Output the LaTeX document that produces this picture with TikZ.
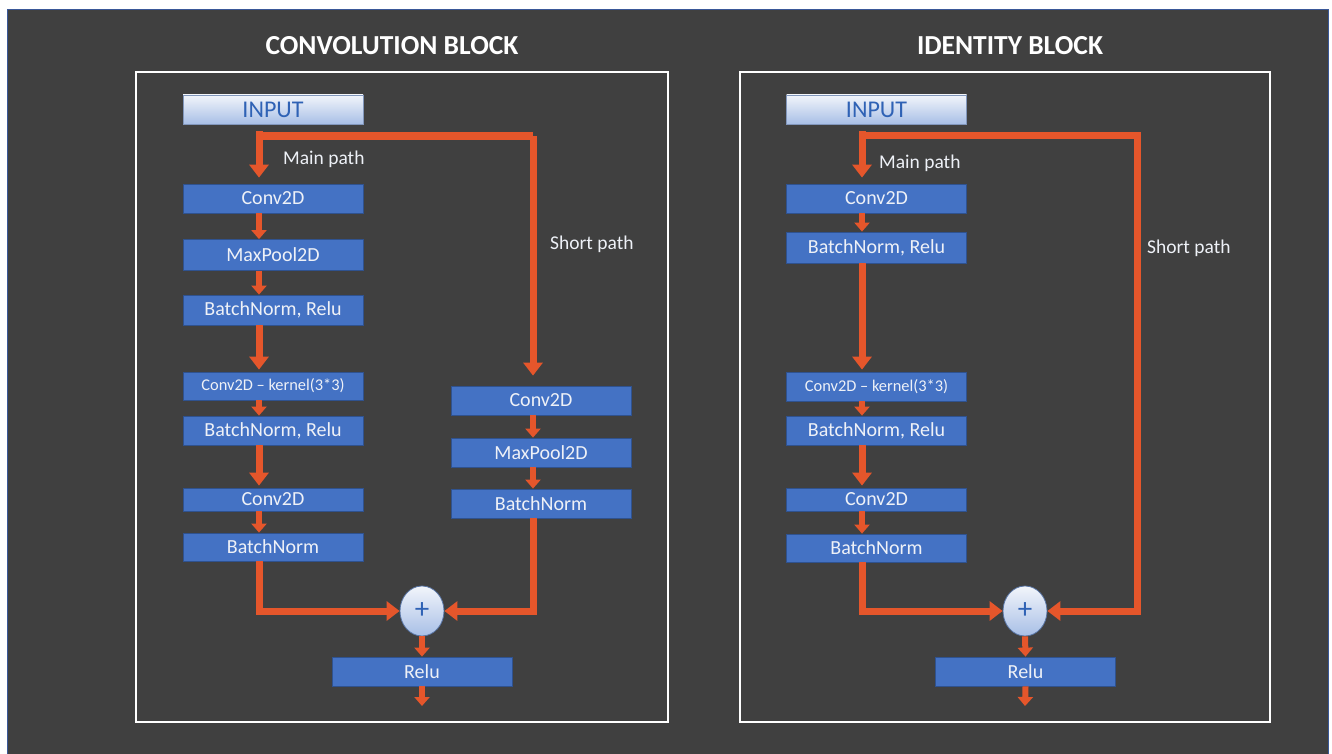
\documentclass[tikz,border=0pt]{standalone}
\usepackage{fontspec}
\setmainfont{Carlito}
\usetikzlibrary{arrows.meta,shapes.geometric}
\definecolor{bg}{HTML}{404040}
\definecolor{boxblue}{HTML}{4472C4}
\definecolor{boxedge}{HTML}{2F528F}
\definecolor{orng}{HTML}{E5562B}
\definecolor{txt}{HTML}{EEF1F7}
\definecolor{inptop}{HTML}{F2F5FB}
\definecolor{inpbot}{HTML}{A8BFE6}
\definecolor{inptxt}{HTML}{2F62B5}
\definecolor{edge}{HTML}{3A5898}
\tikzset{
  box/.style={draw=boxedge, line width=0.8pt, fill=boxblue, text=txt, minimum width=180pt, inner sep=0pt, font=\fontsize{20}{23}\selectfont},
  smallbox/.style={box, font=\fontsize{16.4}{19}\selectfont},
  inbox/.style={draw=boxedge!60, line width=0.8pt, top color=inptop, bottom color=inpbot, text=inptxt, minimum width=180pt, minimum height=29pt, inner sep=0pt, font=\fontsize{24}{27}\selectfont},
  plusnode/.style={ellipse, draw=boxedge!80, line width=0.8pt, top color=inptop, bottom color=inpbot, text=inptxt, minimum width=44pt, minimum height=50pt, inner sep=0pt, font=\fontsize{29}{30}\selectfont},
  bigarr/.style={draw=orng, line width=7pt, line join=miter, -{Triangle[width=19pt,length=13pt]}},
  smallarr/.style={draw=orng, line width=6pt, -{Triangle[width=15pt,length=9pt]}},
  pathline/.style={draw=orng, line width=8pt, line join=miter},
  lbl/.style={text=txt, anchor=west, inner sep=0pt, font=\fontsize{19.5}{22}\selectfont},
  ttl/.style={text=white, inner sep=0pt, font=\bfseries\fontsize{27.5}{30}\selectfont},
  frame/.style={draw=white, line width=1.3pt}
}
\begin{document}
\begin{tikzpicture}[x=1pt,y=-1pt]
\useasboundingbox (0,0) rectangle (1332,754);
\fill[white] (0,0) rectangle (1332,754);
\draw[fill=bg, draw=edge, line width=1pt] (7,10) rectangle (1328,760);

% titles
\node[ttl] (t1) at (392,46) {CONVOLUTION BLOCK};
\node[ttl] (t2) at (1010,46) {IDENTITY BLOCK};

% frames
\draw[frame] (136,72) rectangle (668,722);
\draw[frame] (740,72) rectangle (1270,722);

% ===== Left panel: convolution block =====
\node[inbox] (inpL) at (273,109.5) {INPUT};
\node[box, minimum height=29pt] (c1L) at (273,198.5) {Conv2D};
\node[box, minimum height=31pt] (mpL) at (273,255) {MaxPool2D};
\node[box, minimum height=30pt] (bnrL) at (273,310) {BatchNorm, Relu};
\node[smallbox, minimum height=28pt] (kL) at (273,386) {Conv2D – kernel(3*3)};
\node[box, minimum height=29pt] (bnr2L) at (273,430.5) {BatchNorm, Relu};
\node[box, minimum height=23pt] (c2L) at (273,499.5) {Conv2D};
\node[box, minimum height=28pt] (bnL) at (273,547) {BatchNorm};

\node[box, minimum height=29pt] (sc1L) at (541,400.5) {Conv2D};
\node[box, minimum height=29pt] (smpL) at (541,452.5) {MaxPool2D};
\node[box, minimum height=29pt] (sbnL) at (541,503.5) {BatchNorm};

\node[plusnode] (plusL) at (422,611) {+};
\node[box, minimum height=29pt] (reluL) at (422,671.5) {Relu};
\coordinate (outL) at (422,706);

\coordinate (LmX) at (259,0);
\coordinate (LsX) at (533,0);
\coordinate (LsplitA) at (259,131);
\coordinate (LsplitB) at (259,136);
\coordinate (LcornerT) at (533,136);

\node[lbl] (mainL) at (283,159) {Main path};
\node[lbl] (shortL) at (550,244) {Short path};

\draw[bigarr, shorten >=6pt] (LsplitA) -- (c1L.north -| LmX);
\draw[pathline] (LsplitB) -- (LcornerT);
\draw[bigarr, shorten >=10pt] (LcornerT) -- (sc1L.north -| LsX);
\draw[smallarr] (c1L.south -| LmX) -- (mpL.north -| LmX);
\draw[smallarr] (mpL.south -| LmX) -- (bnrL.north -| LmX);
\draw[bigarr, shorten >=2pt] (bnrL.south -| LmX) -- (kL.north -| LmX);
\draw[smallarr] (kL.south -| LmX) -- (bnr2L.north -| LmX);
\draw[bigarr, shorten >=2pt] (bnr2L.south -| LmX) -- (c2L.north -| LmX);
\draw[smallarr] (c2L.south -| LmX) -- (bnL.north -| LmX);
\draw[smallarr] (sc1L.south -| LsX) -- (smpL.north -| LsX);
\draw[smallarr] (smpL.south -| LsX) -- (sbnL.north -| LsX);
\draw[bigarr] (bnL.south -| LmX) |- (plusL.west);
\draw[bigarr] (sbnL.south -| LsX) |- (plusL.east);
\draw[smallarr] (plusL.south) -- (reluL.north);
\draw[smallarr] (reluL.south) -- (outL);

% ===== Right panel: identity block =====
\node[inbox] (inpR) at (876.5,109.5) {INPUT};
\node[box, minimum height=29pt] (c1R) at (876.5,198.5) {Conv2D};
\node[box, minimum height=31pt] (bnrR) at (876.5,247.5) {BatchNorm, Relu};
\node[smallbox, minimum height=29pt] (kR) at (876.5,386.5) {Conv2D – kernel(3*3)};
\node[box, minimum height=29pt] (bnr2R) at (876.5,430.5) {BatchNorm, Relu};
\node[box, minimum height=23pt] (c2R) at (876.5,499.5) {Conv2D};
\node[box, minimum height=28pt] (bnR) at (876.5,548) {BatchNorm};

\node[plusnode] (plusR) at (1025,611) {+};
\node[box, minimum height=29pt] (reluR) at (1025.5,671.5) {Relu};
\coordinate (outR) at (1025,706);

\coordinate (RmX) at (862,0);
\coordinate (RsplitA) at (862,131);
\coordinate (RsplitB) at (862,136);
\coordinate (RcornerT) at (1137,136);

\node[lbl] (mainR) at (879,163) {Main path};
\node[lbl] (shortR) at (1147,248) {Short path};

\draw[bigarr, shorten >=6pt] (RsplitA) -- (c1R.north -| RmX);
\draw[bigarr] (RsplitB) -- (RcornerT) |- (plusR.east);
\draw[smallarr] (c1R.south -| RmX) -- (bnrR.north -| RmX);
\draw[bigarr, shorten >=2pt] (bnrR.south -| RmX) -- (kR.north -| RmX);
\draw[smallarr] (kR.south -| RmX) -- (bnr2R.north -| RmX);
\draw[bigarr, shorten >=2pt] (bnr2R.south -| RmX) -- (c2R.north -| RmX);
\draw[smallarr] (c2R.south -| RmX) -- (bnR.north -| RmX);
\draw[bigarr] (bnR.south -| RmX) |- (plusR.west);
\draw[smallarr] (plusR.south) -- (reluR.north);
\draw[smallarr] (reluR.south) -- (outR);
\end{tikzpicture}
\end{document}
